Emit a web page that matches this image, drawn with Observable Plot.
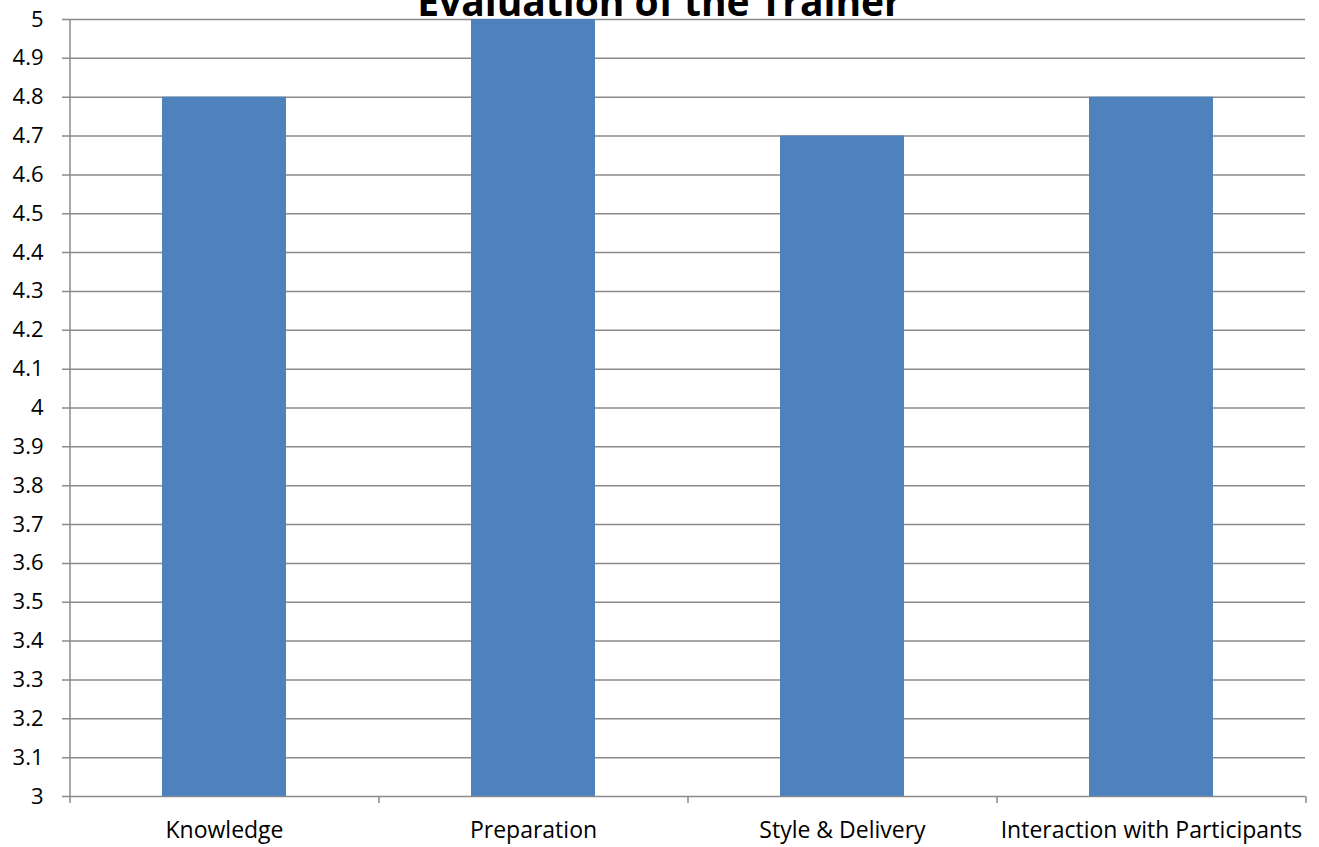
<!DOCTYPE html>
<html>
<head>
<meta charset="utf-8">
<script src="https://cdn.jsdelivr.net/npm/d3@7"></script>
<script src="https://cdn.jsdelivr.net/npm/@observablehq/plot@0.6"></script>
<style>
  html, body { margin: 0; padding: 0; background: #fff; overflow: hidden; }
  #wrap { position: relative; width: 1319px; height: 847px; overflow: hidden; }
  #title { position: absolute; left: 0; width: 1319px; top: -19px; text-align: center; white-space: nowrap;
    font-family: "Open Sans", sans-serif; font-weight: bold; font-size: 39px; color: #000; z-index: 2; line-height: 1; }
  #chart { position: absolute; left: 0; top: 0; }
</style>
</head>
<body>
<div id="wrap">
  <div id="chart"></div>
  <div id="title">Evaluation of the Trainer</div>
</div>
<script>
const categories = ["Knowledge", "Preparation", "Style & Delivery", "Interaction with Participants"];
const scores = [4.8, 5, 4.7, 4.8];
const yTicks = [3, 3.1, 3.2, 3.3, 3.4, 3.5, 3.6, 3.7, 3.8, 3.9, 4, 4.1, 4.2, 4.3, 4.4, 4.5, 4.6, 4.7, 4.8, 4.9, 5];

const data = categories.map((c, i) => ({category: c, value: scores[i]}));

const W = 1319, H = 847, ml = 69, mr = 14, mt = 19, mb = 51;
const step = (W - ml - mr) / categories.length;
const grid = "#8a8a8a";

const plot = Plot.plot({
  width: W, height: H,
  marginLeft: ml, marginRight: mr, marginTop: mt, marginBottom: mb,
  style: {fontFamily: "Open Sans, sans-serif", fontSize: "22px", color: "#000", background: "#fff"},
  x: {type: "band", domain: categories, paddingInner: 0.6, paddingOuter: 0.3, label: null},
  y: {type: "linear", domain: [3, 5], label: null},
  marks: [
    Plot.ruleY(yTicks, {y: d => d, stroke: grid, strokeWidth: 1.5, insetLeft: -7}),
    Plot.barY(data, {x: "category", y1: 3, y2: "value", fill: "#4f81bd"}),
    Plot.ruleX([categories[0]], {x: d => d, dx: -step / 2, y1: 5, y2: 3, insetBottom: -7, stroke: grid, strokeWidth: 1.5}),
    Plot.ruleX(categories.slice(1), {x: d => d, dx: -step / 2, y1: 3, y2: 3, insetBottom: -7, stroke: grid, strokeWidth: 1.5}),
    Plot.ruleX([categories[categories.length - 1]], {x: d => d, dx: step / 2, y1: 3, y2: 3, insetBottom: -7, stroke: grid, strokeWidth: 1.5}),
    Plot.axisY({ticks: yTicks, tickSize: 0, tickPadding: 26, tickFormat: d => String(+d.toFixed(1)), fontSize: 22}),
    Plot.axisX({tickSize: 0, tickPadding: 25, fontSize: 23})
  ]
});
document.getElementById("chart").appendChild(plot);
</script>
</body>
</html>
